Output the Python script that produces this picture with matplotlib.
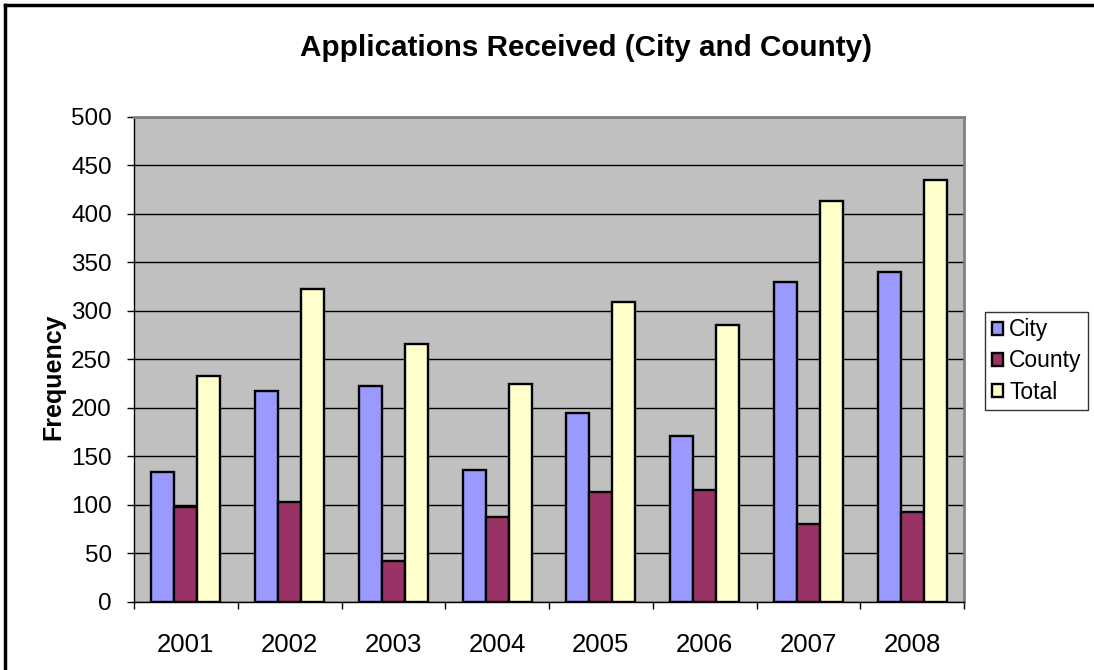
import matplotlib.pyplot as plt
import numpy as np
from matplotlib.lines import Line2D

plt.rcParams['font.family'] = ['Liberation Sans', 'DejaVu Sans']

# values
years = ['2001', '2002', '2003', '2004', '2005', '2006', '2007', '2008']
city = [134, 217, 223, 136, 195, 171, 330, 340]
county = [98, 103, 42, 88, 113, 115, 80, 93]
total = [233, 323, 266, 225, 309, 286, 413, 435]
series_names = ['City', 'County', 'Total']
colors = ['#9999FF', '#993366', '#FFFFCC']

fig = plt.figure(figsize=(10.94, 6.70), dpi=100)
ax = fig.add_axes([0.1225, 0.1015, 0.7587, 0.7239])
ax.set_facecolor('#C0C0C0')

x = np.arange(len(years))
w = 0.222
for i, (vals, name, c) in enumerate(zip([city, county, total], series_names, colors)):
    ax.bar(x + (i - 1) * w, vals, width=w, color=c, edgecolor='black',
           linewidth=1.7, label=name, zorder=3)

ax.set_xlim(-0.5, len(years) - 0.5)
ax.set_ylim(0, 500)
ax.set_yticks(range(0, 501, 50))
ax.yaxis.grid(True, color='black', linewidth=1.0, zorder=1)
ax.set_axisbelow(True)

# year labels at group centres, ticks at group borders
ax.set_xticks(x)
ax.set_xticklabels(years, fontsize=18.5)
ax.tick_params(axis='x', which='major', length=0, pad=22)
ax.set_xticks(np.arange(-0.5, len(years), 1), minor=True)
ax.tick_params(axis='x', which='minor', length=5, width=1, color='black')
ax.tick_params(axis='y', labelsize=17.5, length=5, width=1, pad=11)

for s in ['top', 'right']:
    ax.spines[s].set_color('#808080')
    ax.spines[s].set_linewidth(2)
for s in ['left', 'bottom']:
    ax.spines[s].set_color('black')
    ax.spines[s].set_linewidth(1)

ax.set_ylabel('Frequency', fontsize=18, fontweight='bold')
ax.yaxis.set_label_coords(-0.083, 0.464)

fig.text(0.5356, 1 - 48 / 670, 'Applications Received (City and County)',
         ha='center', va='center', fontsize=21.3, fontweight='bold')

leg = fig.legend(loc='center left', bbox_to_anchor=(985 / 1094, 1 - 361 / 670),
                 fontsize=16.5, frameon=True, fancybox=False, handlelength=0.5,
                 handleheight=0.5, handletextpad=0.25, borderpad=0.3,
                 labelspacing=0.35, borderaxespad=0)
leg.get_frame().set_edgecolor('black')
leg.get_frame().set_linewidth(1)

# outer frame (top and left edges visible in the reference)
fig.add_artist(Line2D([5 / 1094, 1], [1 - 5 / 670, 1 - 5 / 670], color='black', linewidth=2.5))
fig.add_artist(Line2D([5 / 1094, 5 / 1094], [0, 1 - 5 / 670], color='black', linewidth=2.5))

fig.savefig('out.png', dpi=100)
